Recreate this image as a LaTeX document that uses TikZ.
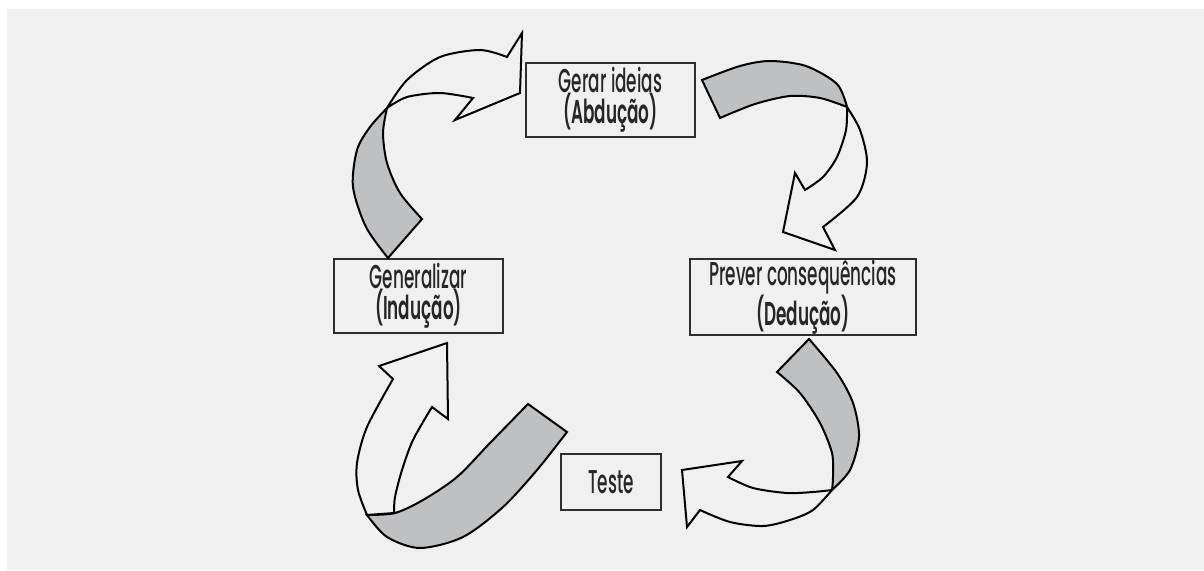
\documentclass[tikz,border=0pt]{standalone}
\usepackage{fontspec}
\setmainfont{Poppins}[FakeStretch=0.51, UprightFont=* Medium, BoldFont=* SemiBold]
\definecolor{bgray}{HTML}{F0F0F0}
\definecolor{rgray}{HTML}{BFC0C2}
\definecolor{bline}{HTML}{2E2E2E}
\definecolor{tcol}{HTML}{262626}
\tikzset{
  stage/.style={draw=bline, line width=2.6pt, fill=bgray, text=tcol, align=center,
    inner sep=0pt, font=\fontsize{33}{31}\selectfont},
  backside/.style={fill=rgray, draw=black, line width=2pt, line join=miter},
  frontside/.style={fill=bgray, draw=black, line width=2pt, line join=miter}
}
\begin{document}
\begin{tikzpicture}[x=1pt,y=-1pt]
  \useasboundingbox (0,0) rectangle (1204,570);
  \fill[white] (0,0) rectangle (1204,570);
  \fill[bgray] (7,9) rectangle (1204,570);

  \node(gerar) at (610.5,100) [stage, minimum width=169pt, minimum height=74pt] {Gerar ideias\\\textbf{(Abdução)}};
  \node(prever) at (803,297) [stage, minimum width=226pt, minimum height=76pt] {Prever consequências\\\textbf{(Dedução)}};
  \node(teste) at (611,482) [stage, minimum width=100pt, minimum height=56pt] {Teste};
  \node(gener) at (418.5,296) [stage, minimum width=169pt, minimum height=74pt] {Generalizar\\\textbf{(Indução)}};

  % generalizar -> gerar ideias
  \filldraw[backside] plot[smooth] coordinates {(388,258) (366,227) (353,187) (357,150) (370,127) (387,108)}
    -- plot[smooth] coordinates {(387,108) (383,133) (387,163) (400,193) (422,219)} -- cycle;
  \filldraw[frontside] plot[smooth] coordinates {(387,108) (407,80) (440,57) (480,50) (507,57)}
    -- (522,33) -- (520,93) -- (455,120) -- (473,98)
    -- plot[smooth] coordinates {(473,98) (440,93) (407,97) (387,108)} -- cycle;

  % gerar ideias -> prever
  \filldraw[backside] plot[smooth] coordinates {(702,80) (740,66) (770,61) (806,66) (837,84) (847,107)}
    -- plot[smooth] coordinates {(847,107) (820,98) (790,96) (755,104) (720,118)} -- cycle;
  \filldraw[frontside] plot[smooth] coordinates {(847,107) (860,130) (867,163) (857,197) (823,227)}
    -- (835,250) -- (783,232) -- (795,173) -- (805,190)
    -- plot[smooth] coordinates {(805,190) (823,177) (837,157) (846,130) (847,107)} -- cycle;

  % prever -> teste
  \filldraw[backside] plot[smooth] coordinates {(809,339) (837,373) (853,403) (859,437) (850,470) (832,490)}
    -- plot[smooth] coordinates {(832,490) (833,477) (832,453) (820,423) (800,393) (777,372)} -- cycle;
  \filldraw[frontside] plot[smooth] coordinates {(832,490) (813,510) (790,520) (763,526) (730,522) (700,510)}
    -- (687,527) -- (682,470) -- (742,461) -- (728,477)
    -- plot[smooth] coordinates {(728,477) (753,488) (787,493) (813,492) (832,490)} -- cycle;

  % teste -> generalizar
  \filldraw[backside] plot[smooth] coordinates {(528,404) (490,443) (457,477) (423,500) (395,513) (367,515)}
    -- plot[smooth] coordinates {(367,515) (387,537) (420,548) (463,537) (503,507) (537,470) (567,432)} -- cycle;
  \filldraw[frontside] plot[smooth] coordinates {(367,515) (358,490) (357,463) (367,427) (393,379)}
    -- (379,366) -- (447,343) -- (448,419) -- (432,407)
    -- plot[smooth] coordinates {(432,407) (413,440) (402,470) (395,497) (394,513)} -- (367,515) -- cycle;
\end{tikzpicture}
\end{document}
